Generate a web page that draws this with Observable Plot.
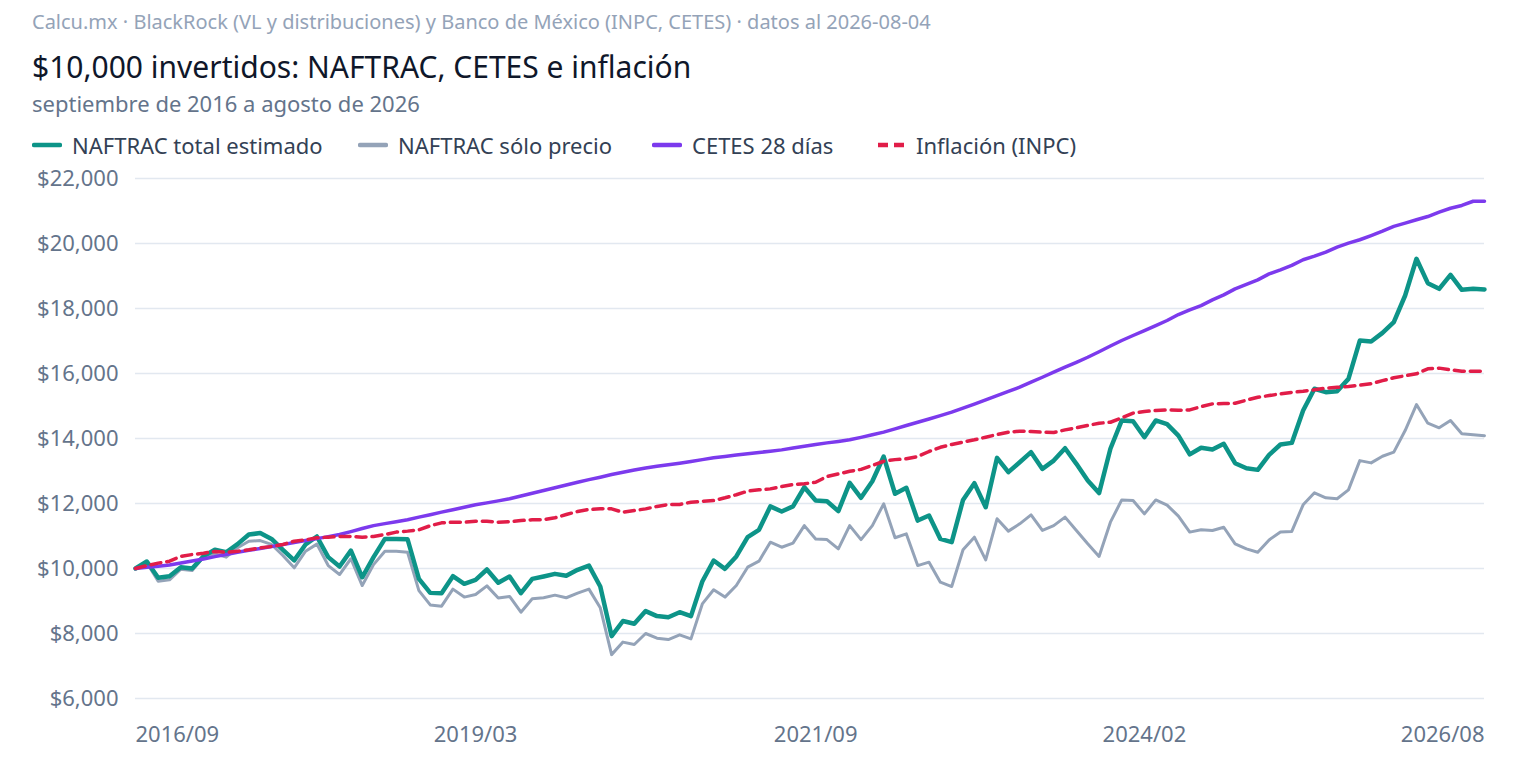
<!DOCTYPE html>
<html><head><meta charset="utf-8">
<script src="https://cdn.jsdelivr.net/npm/d3@7"></script>
<script src="https://cdn.jsdelivr.net/npm/@observablehq/plot@0.6"></script>
<style>
body{margin:0;background:#fff;font-family:"Noto Sans",sans-serif;width:1520px;height:762px;position:relative;overflow:hidden}
.abs{position:absolute;white-space:nowrap}
#src{left:32px;top:9px;font-size:20px;line-height:26px;color:#94a3b8}
#title{left:32px;top:47px;font-size:30px;line-height:40px;color:#0f172a}
#sub{left:32px;top:89px;font-size:22px;line-height:28px;color:#64748b}
.item{top:131px;font-size:22px;line-height:28px;color:#334155;display:flex;align-items:center}
.item svg{margin-right:10px}
#chart{position:absolute;top:160px;left:0}
</style></head>
<body>
<div id="src" class="abs">Calcu.mx · BlackRock (VL y distribuciones) y Banco de México (INPC, CETES) · datos al 2026-08-04</div>
<div id="title" class="abs">$10,000 invertidos: NAFTRAC, CETES e inflación</div>
<div id="sub" class="abs">septiembre de 2016 a agosto de 2026</div>
<div id="legend"></div>
<div id="chart"></div>
<script>
// Monthly values, septiembre 2016 (index 0) to agosto 2026 (index 119)
const naftracTotal = [10000,10215,9714,9764,10040,10000,10380,10575,10500,10750,11045,11090,10910,10575,10250,10740,10985,10350,10060,10550,9730,10350,10910,10910,10900,9680,9250,9240,9765,9530,9650,9970,9560,9755,9240,9680,9755,9835,9775,9960,10090,9445,7920,8385,8300,8690,8535,8500,8655,8535,9600,10245,9990,10370,10965,11190,11910,11755,11910,12500,12090,12070,11765,12635,12175,12685,13445,12300,12485,11475,11630,10910,10810,12110,12625,11885,13405,12965,13270,13580,13065,13320,13700,13220,12710,12320,13685,14555,14530,14040,14555,14440,14090,13510,13715,13660,13835,13240,13085,13035,13495,13815,13865,14860,15530,15425,15455,15835,17015,16985,17250,17580,18400,19530,18780,18605,19035,18575,18605,18585];
const naftracPrecio = [10000,10180,9610,9652,9980,9940,10350,10450,10350,10640,10840,10860,10740,10400,10020,10530,10750,10090,9815,10300,9475,10120,10530,10530,10500,9320,8880,8840,9365,9120,9200,9465,9090,9140,8655,9070,9100,9180,9100,9240,9365,8790,7350,7735,7660,8000,7855,7815,7960,7835,8910,9345,9120,9475,10040,10225,10810,10655,10780,11320,10910,10890,10605,11320,10890,11320,11990,10945,11065,10090,10195,9580,9445,10575,10965,10265,11530,11150,11375,11650,11170,11320,11580,11170,10760,10370,11425,12110,12090,11680,12110,11950,11610,11120,11190,11170,11270,10760,10605,10500,10880,11120,11140,11960,12330,12175,12145,12420,13320,13250,13455,13580,14245,15045,14470,14330,14555,14145,14115,14085];
const cetes28 = [10000,10035,10070,10110,10170,10230,10295,10365,10430,10500,10560,10615,10675,10735,10800,10860,10920,10980,11045,11135,11230,11320,11380,11440,11500,11580,11655,11735,11810,11885,11960,12020,12080,12145,12230,12315,12400,12485,12570,12655,12735,12810,12890,12960,13030,13095,13145,13190,13240,13295,13350,13405,13445,13490,13530,13570,13610,13650,13705,13760,13815,13865,13910,13960,14035,14115,14195,14295,14400,14500,14600,14705,14810,14935,15060,15190,15320,15450,15580,15735,15885,16040,16195,16345,16500,16670,16845,17015,17170,17320,17475,17630,17815,17960,18090,18265,18420,18605,18740,18880,19065,19190,19325,19500,19610,19735,19890,20010,20115,20245,20380,20525,20625,20730,20830,20965,21085,21170,21300,21300];
const inflacion = [10000,10090,10165,10225,10370,10430,10470,10525,10500,10530,10575,10635,10675,10740,10840,10880,10945,10965,10985,10985,10965,10985,11045,11120,11150,11190,11315,11405,11425,11425,11455,11455,11425,11440,11475,11500,11500,11560,11660,11755,11815,11835,11835,11730,11785,11835,11910,11970,11970,12040,12070,12090,12175,12270,12380,12420,12450,12520,12585,12605,12655,12830,12910,12990,13050,13170,13300,13350,13375,13445,13600,13730,13815,13890,13960,14040,14120,14195,14225,14215,14195,14185,14265,14330,14400,14470,14500,14635,14780,14830,14860,14880,14870,14880,14980,15065,15075,15085,15180,15270,15320,15375,15420,15455,15500,15550,15575,15600,15640,15685,15780,15870,15930,15990,16145,16165,16115,16070,16070,16070];

const seriesNames = ["NAFTRAC total estimado","NAFTRAC sólo precio","CETES 28 días","Inflación (INPC)"];
const seriesColors = ["#0d9488","#94a3b8","#7c3aed","#e11d48"];
const xTicks = [0,30,60,89,119];
const xTickLabels = ["2016/09","2019/03","2021/09","2024/02","2026/08"];
const yTicks = [6000,8000,10000,12000,14000,16000,18000,20000,22000];

// legend
const legendLeft = [32,358,652,876];
const legend = document.getElementById("legend");
seriesNames.forEach((name,i)=>{
  const d = document.createElement("div");
  d.className = "abs item";
  d.style.left = legendLeft[i]+"px";
  const dash = i===3 ? ' stroke-dasharray="10,6"' : '';
  d.innerHTML = `<svg width="30" height="10"><line x1="2" x2="28" y1="5" y2="5" stroke="${seriesColors[i]}" stroke-width="4.5" stroke-linecap="${i===3?'butt':'round'}"${dash}/></svg><span>${name}</span>`;
  legend.appendChild(d);
});

const fmt = d => "$" + d3.format(",")(d);
const lab = i => xTickLabels[xTicks.indexOf(i)];
const axisOpts = {tickSize:0, tickPadding:28, tickFormat:lab, fill:"#64748b", label:null};

const chart = Plot.plot({
  width:1520, height:602,
  marginLeft:135, marginRight:36, marginTop:18, marginBottom:64,
  style:{fontFamily:"'Noto Sans', sans-serif", fontSize:"22px", background:"transparent", overflow:"visible"},
  x:{domain:[0,119]},
  y:{domain:[6000,22000]},
  marks:[
    Plot.gridY(yTicks, {stroke:"#e2e8f0", strokeOpacity:1, strokeWidth:1.5}),
    Plot.axisY(yTicks, {tickSize:0, tickPadding:17, tickFormat:fmt, fill:"#64748b", label:null}),
    Plot.axisX(xTicks.slice(0,1), {...axisOpts, textAnchor:"start"}),
    Plot.axisX(xTicks.slice(1,4), {...axisOpts}),
    Plot.axisX(xTicks.slice(4), {...axisOpts, textAnchor:"end"}),
    Plot.lineY(naftracPrecio, {stroke:seriesColors[1], strokeWidth:3, strokeLinejoin:"round"}),
    Plot.lineY(naftracTotal, {stroke:seriesColors[0], strokeWidth:4.5, strokeLinejoin:"round"}),
    Plot.lineY(cetes28, {stroke:seriesColors[2], strokeWidth:3.5, strokeLinejoin:"round"}),
    Plot.lineY(inflacion, {stroke:seriesColors[3], strokeWidth:3.5, strokeDasharray:"10,6", strokeLinejoin:"round"})
  ]
});
document.getElementById("chart").appendChild(chart);
</script>
</body></html>
